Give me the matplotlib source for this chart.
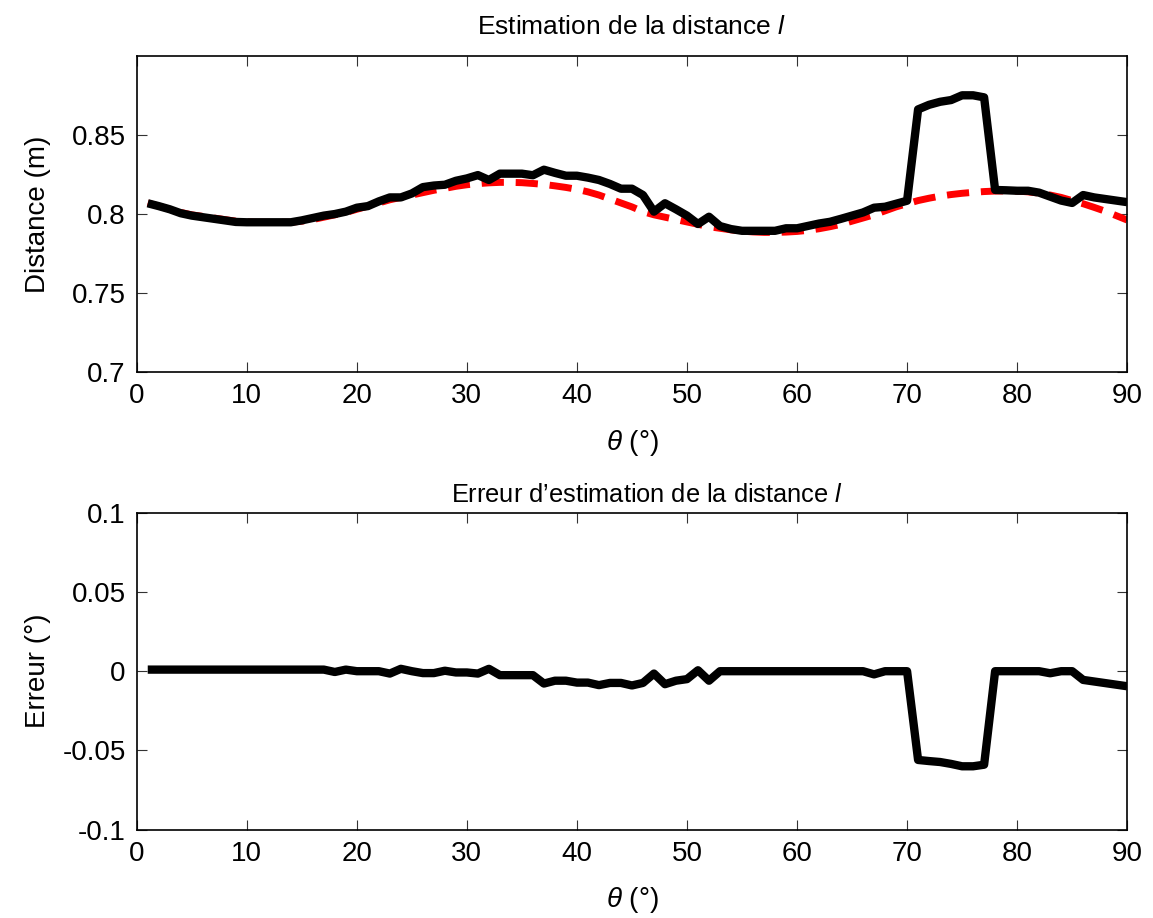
import matplotlib
matplotlib.use("Agg")
import matplotlib.pyplot as plt
from matplotlib.ticker import FuncFormatter

plt.rcParams['font.family'] = ['Liberation Sans', 'DejaVu Sans']
plt.rcParams['mathtext.fontset'] = 'custom'
plt.rcParams['mathtext.rm'] = 'Liberation Sans'
plt.rcParams['mathtext.it'] = 'Liberation Sans:italic'
plt.rcParams['axes.unicode_minus'] = False

# angle theta (deg)
theta = list(range(1, 91))

# true distance (red dashed)
dist_true = [
    0.8070, 0.8050, 0.8030, 0.8010, 0.7995, 0.7985, 0.7975, 0.7965, 0.7955, 0.7950,
    0.7948, 0.7948, 0.7948, 0.7948, 0.7955, 0.7965, 0.7980, 0.7995, 0.8010, 0.8030,
    0.8050, 0.8070, 0.8090, 0.8105, 0.8120, 0.8135, 0.8150, 0.8162, 0.8175, 0.8185,
    0.8192, 0.8197, 0.8200, 0.8200, 0.8198, 0.8193, 0.8187, 0.8178, 0.8168, 0.8156,
    0.8140, 0.8120, 0.8095, 0.8070, 0.8045, 0.8015, 0.7995, 0.7980, 0.7965, 0.7950,
    0.7935, 0.7920, 0.7910, 0.7900, 0.7892, 0.7887, 0.7884, 0.7884, 0.7886, 0.7890,
    0.7897, 0.7907, 0.7920, 0.7935, 0.7955, 0.7975, 0.7995, 0.8020, 0.8045, 0.8065,
    0.8085, 0.8100, 0.8113, 0.8123, 0.8131, 0.8137, 0.8142, 0.8145, 0.8146, 0.8145,
    0.8140, 0.8132, 0.8120, 0.8105, 0.8085, 0.8065, 0.8042, 0.8018, 0.7990, 0.7962,
]

# estimated distance (black)
dist_est = [
    0.8068, 0.8050, 0.8030, 0.8005, 0.7990, 0.7980, 0.7970, 0.7960, 0.7950, 0.7948,
    0.7948, 0.7948, 0.7948, 0.7948, 0.7960, 0.7975, 0.7990, 0.8000, 0.8015, 0.8040,
    0.8050, 0.8080, 0.8105, 0.8105, 0.8130, 0.8170, 0.8180, 0.8185, 0.8210, 0.8225,
    0.8246, 0.8215, 0.8255, 0.8255, 0.8255, 0.8245, 0.8280, 0.8260, 0.8242, 0.8242,
    0.8230, 0.8215, 0.8190, 0.8160, 0.8160, 0.8120, 0.8015, 0.8068, 0.8030, 0.7990,
    0.7937, 0.7983, 0.7924, 0.7905, 0.7894, 0.7894, 0.7894, 0.7894, 0.7910, 0.7910,
    0.7925, 0.7940, 0.7951, 0.7970, 0.7990, 0.8010, 0.8040, 0.8046, 0.8065, 0.8084,
    0.8661, 0.8690, 0.8709, 0.8720, 0.8750, 0.8750, 0.8737, 0.8152, 0.8150, 0.8147,
    0.8147, 0.8135, 0.8110, 0.8085, 0.8070, 0.8120, 0.8105, 0.8095, 0.8085, 0.8075,
]

# estimation error
erreur = [
    0.0010, 0.0010, 0.0010, 0.0010, 0.0010, 0.0010, 0.0010, 0.0010, 0.0010, 0.0010,
    0.0010, 0.0010, 0.0010, 0.0010, 0.0010, 0.0010, 0.0010, -0.0005, 0.0010, 0.0000,
    0.0000, 0.0000, -0.0015, 0.0015, 0.0000, -0.0012, -0.0012, 0.0003, -0.0008, -0.0008,
    -0.0015, 0.0015, -0.0025, -0.0025, -0.0025, -0.0025, -0.0078, -0.0060, -0.0060, -0.0072,
    -0.0072, -0.0088, -0.0074, -0.0074, -0.0090, -0.0074, -0.0015, -0.0082, -0.0060, -0.0050,
    0.0006, -0.0060, 0.0000, 0.0000, 0.0000, 0.0000, 0.0000, 0.0000, 0.0000, 0.0000,
    0.0000, 0.0000, 0.0000, 0.0000, 0.0000, 0.0000, -0.0020, 0.0000, 0.0000, 0.0000,
    -0.0560, -0.0567, -0.0573, -0.0585, -0.0600, -0.0600, -0.0590, 0.0000, 0.0000, 0.0000,
    0.0000, 0.0000, -0.0013, 0.0000, 0.0000, -0.0055, -0.0065, -0.0075, -0.0085, -0.0095,
]

fig = plt.figure(figsize=(11.53, 9.18), dpi=100)
ax1 = fig.add_axes([0.1186, 0.5944, 0.859, 0.3449])
ax2 = fig.add_axes([0.1186, 0.0962, 0.859, 0.3453])

fmt = FuncFormatter(lambda v, p: '%g' % round(v, 4))

def style(ax):
    ax.tick_params(direction='in', length=7, width=0.8, top=True, right=True,
                   labelsize=20, pad=8, color='#333333')
    for s in ax.spines.values():
        s.set_linewidth(1.2)
    ax.set_xlim(0, 90)
    ax.set_xticks(range(0, 91, 10))
    ax.yaxis.set_major_formatter(fmt)
    ax.set_xlabel(r'$\theta$ (°)', fontsize=20, labelpad=13)

ax1.plot(theta, dist_true, color='red', lw=5, dashes=(3.2, 1.7))
ax1.plot(theta, dist_est, color='black', lw=6, solid_capstyle='butt')
ax1.set_ylim(0.7, 0.9)
ax1.set_yticks([0.7, 0.75, 0.8, 0.85])
style(ax1)
ax1.set_ylabel('Distance (m)', fontsize=20)
ax1.yaxis.set_label_coords(-0.0865, 0.5)
ax1.set_title(r'Estimation de la distance $\mathit{l}$', fontsize=19, pad=16)

ax2.plot(theta, erreur, color='black', lw=6, solid_capstyle='butt')
ax2.set_ylim(-0.1, 0.1)
ax2.set_yticks([-0.1, -0.05, 0, 0.05, 0.1])
style(ax2)
ax2.set_ylabel('Erreur (°)', fontsize=20)
ax2.yaxis.set_label_coords(-0.0865, 0.5)
ax2.set_title(r'Erreur d’estimation de la distance $\mathit{l}$', fontsize=18.3, pad=8, x=0.515)

fig.savefig('out.png', dpi=100)
